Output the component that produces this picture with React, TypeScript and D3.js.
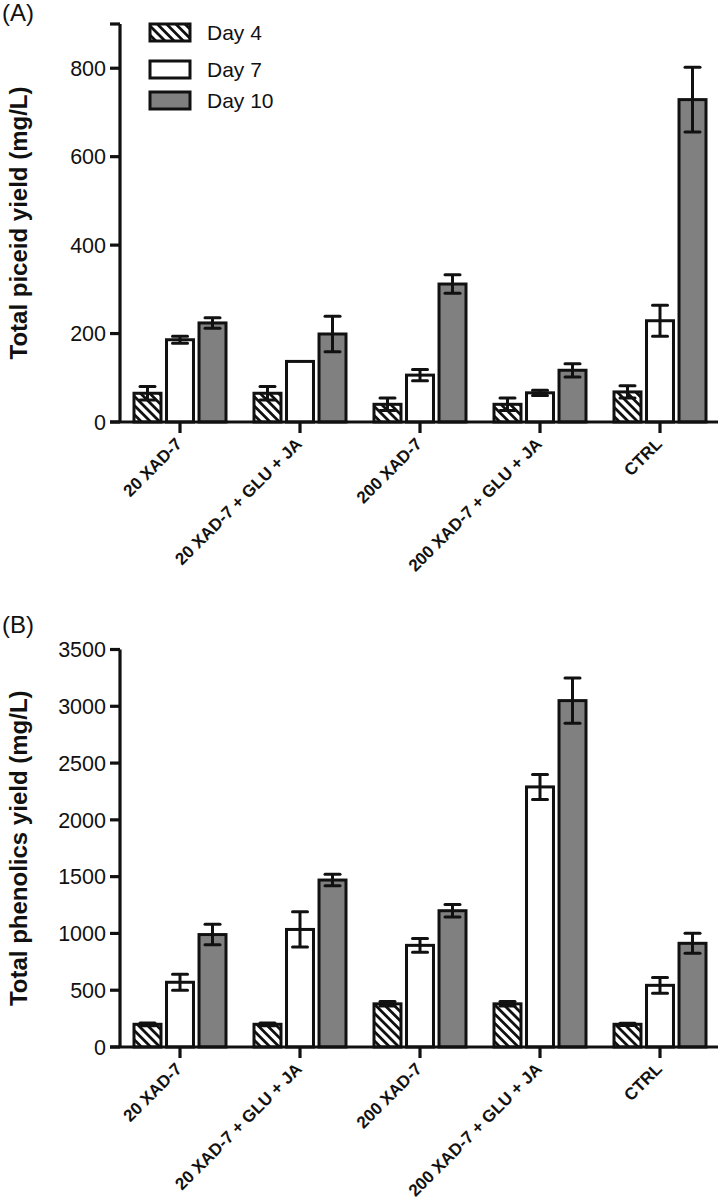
import React, { useEffect } from "react";
import * as d3 from "d3";

// ---------------- data ----------------
const categories = ["20 XAD-7", "20 XAD-7 + GLU + JA", "200 XAD-7", "200 XAD-7 + GLU + JA", "CTRL"];
const days = ["Day 4", "Day 7", "Day 10"];

const piceidDay4 = [65, 65, 40, 40, 68];
const piceidDay4Err = [15, 15, 14, 14, 14];
const piceidDay7 = [186, 137, 106, 66, 229];
const piceidDay7Err = [8, 0, 13, 6, 35];
const piceidDay10 = [224, 199, 312, 117, 729];
const piceidDay10Err = [12, 40, 21, 15, 73];
const piceidTicks = [0, 200, 400, 600, 800];
const piceidMax = 900;

const phenolicsDay4 = [200, 200, 380, 380, 200];
const phenolicsDay4Err = [12, 12, 20, 20, 10];
const phenolicsDay7 = [570, 1035, 895, 2290, 543];
const phenolicsDay7Err = [70, 155, 60, 110, 70];
const phenolicsDay10 = [990, 1470, 1200, 3050, 913];
const phenolicsDay10Err = [90, 50, 55, 200, 88];
const phenolicsTicks = [0, 500, 1000, 1500, 2000, 2500, 3000, 3500];
const phenolicsMax = 3500;

// ---------------- style ----------------
const FONT = "'Liberation Sans', Arial, Helvetica, sans-serif";
const fills = ["url(#hatch)", "#ffffff", "#808080"];
const legendRowsY = [24, 61, 92];
const AXIS_X = 120;

type PanelProps = {
  letter: string;
  letterY: number;
  title: string;
  values: number[][];
  errors: number[][];
  ticks: number[];
  max: number;
  top: number;
  bottom: number;
  legend?: boolean;
};

function Panel({ letter, letterY, title, values, errors, ticks, max, top, bottom, legend }: PanelProps) {
  const x = d3.scaleBand<string>().domain(categories).range([AXIS_X, 720]).padding(0);
  const inner = d3.scaleBand<string>().domain(days).range([-46, 46]).paddingInner(0.17).paddingOuter(0);
  const y = d3.scaleLinear().domain([0, max]).range([bottom, top]);
  const y0 = y(0);
  const bw = inner.bandwidth();
  const tickVals = ticks.includes(max) ? ticks : [...ticks, max];

  return (
    <g>
      <text x={2} y={letterY} fontFamily={FONT} fontSize={24} fill="#111">{letter}</text>
      {/* y title */}
      <text
        transform={`translate(27, ${(top + bottom) / 2}) rotate(-90)`}
        textAnchor="middle"
        fontFamily={FONT}
        fontWeight="bold"
        fontSize={24}
        fill="#111"
      >
        {title}
      </text>

      {/* bars */}
      {categories.map((c, ci) => {
        const cx = (x(c) as number) + x.bandwidth() / 2;
        return (
          <g key={c}>
            {days.map((d, di) => {
              const v = values[di][ci];
              const bx = cx + (inner(d) as number);
              return (
                <rect
                  key={d}
                  x={bx}
                  y={y(v)}
                  width={bw}
                  height={y0 - y(v)}
                  fill={fills[di]}
                  stroke="#111"
                  strokeWidth={3}
                />
              );
            })}
            {days.map((d, di) => {
              const v = values[di][ci];
              const e = errors[di][ci];
              if (!e) return null;
              const mx = cx + (inner(d) as number) + bw / 2;
              return (
                <g key={"e" + d} stroke="#111" strokeWidth={3}>
                  <line x1={mx} x2={mx} y1={y(v + e)} y2={y(v - e)} />
                  <line x1={mx - 7.5} x2={mx + 7.5} y1={y(v + e)} y2={y(v + e)} strokeLinecap="round" />
                  <line x1={mx - 7.5} x2={mx + 7.5} y1={y(v - e)} y2={y(v - e)} strokeLinecap="round" />
                </g>
              );
            })}
          </g>
        );
      })}

      {/* y axis */}
      <line x1={AXIS_X} x2={AXIS_X} y1={y(max)} y2={y0} stroke="#111" strokeWidth={3.2} />
      {tickVals.map((t) => (
        <g key={t}>
          <line x1={AXIS_X - 10} x2={AXIS_X} y1={y(t)} y2={y(t)} stroke="#111" strokeWidth={3.2} />
          {ticks.includes(t) && (
            <text
              x={AXIS_X - 14}
              y={y(t)}
              dy="0.36em"
              textAnchor="end"
              fontFamily={FONT}
              fontSize={21.5}
              fill="#111"
            >
              {t}
            </text>
          )}
        </g>
      ))}

      {/* x axis */}
      <line x1={AXIS_X - 10} x2={718} y1={y0} y2={y0} stroke="#111" strokeWidth={3.2} />
      {categories.map((c) => {
        const cx = (x(c) as number) + x.bandwidth() / 2;
        return (
          <g key={"x" + c}>
            <line x1={cx} x2={cx} y1={y0} y2={y0 + 11} stroke="#111" strokeWidth={3.2} />
            <text
              transform={`translate(${cx + 3}, ${y0 + 23}) rotate(-45)`}
              textAnchor="end"
              fontFamily={FONT}
              fontWeight="bold"
              fontSize={17}
              fill="#111"
            >
              {c}
            </text>
          </g>
        );
      })}

      {legend &&
        days.map((d, di) => (
          <g key={"l" + d}>
            <rect x={150} y={legendRowsY[di]} width={40} height={17} fill={fills[di]} stroke="#111" strokeWidth={3} />
            <text x={207} y={legendRowsY[di] + 8.5} dy="0.36em" fontFamily={FONT} fontSize={21} fill="#111">
              {d}
            </text>
          </g>
        ))}
    </g>
  );
}

export default function App() {
  useEffect(() => {
    document.body.style.margin = "0";
  }, []);
  return (
    <svg
      width={720}
      height={1201}
      viewBox="0 0 720 1201"
      style={{ position: "absolute", left: 0, top: 0, background: "#fff" }}
    >
      <defs>
        <pattern id="hatch" patternUnits="userSpaceOnUse" width={6.5} height={6.5} patternTransform="rotate(-45)">
          <rect width={6.5} height={6.5} fill="#fff" />
          <line x1={3.25} y1={0} x2={3.25} y2={6.5} stroke="#111" strokeWidth={2.8} />
        </pattern>
      </defs>
      <rect width={720} height={1201} fill="#fff" />
      <Panel
        letter="(A)"
        letterY={21}
        title="Total piceid yield (mg/L)"
        values={[piceidDay4, piceidDay7, piceidDay10]}
        errors={[piceidDay4Err, piceidDay7Err, piceidDay10Err]}
        ticks={piceidTicks}
        max={piceidMax}
        top={24}
        bottom={422}
        legend
      />
      <Panel
        letter="(B)"
        letterY={633}
        title="Total phenolics yield (mg/L)"
        values={[phenolicsDay4, phenolicsDay7, phenolicsDay10]}
        errors={[phenolicsDay4Err, phenolicsDay7Err, phenolicsDay10Err]}
        ticks={phenolicsTicks}
        max={phenolicsMax}
        top={649.5}
        bottom={1047}
      />
    </svg>
  );
}
